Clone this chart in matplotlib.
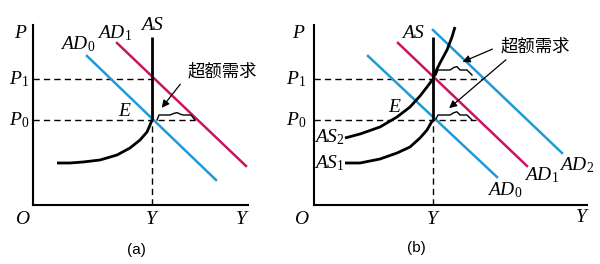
import matplotlib
matplotlib.use("Agg")
import matplotlib.pyplot as plt

plt.rcParams["mathtext.fontset"] = "custom"
plt.rcParams["mathtext.it"] = "Liberation Serif:italic"
plt.rcParams["mathtext.rm"] = "Liberation Serif"
plt.rcParams["mathtext.default"] = "it"

BLUE = "#1f9ad8"
MAGENTA = "#c81462"
CJK = ["Noto Sans CJK SC", "DejaVu Sans"]

# common levels (units: axis origin = 0)
y_full = 5.95
p0, p1 = 4.25, 6.3
as_top = 8.4

# ---- panel (a) ----
a_ad0_x, a_ad0_y = [2.7, 9.15], [7.45, 1.25]
a_ad1_x, a_ad1_y = [4.2, 10.65], [8.1, 1.95]
a_as_x = [1.2, 1.85, 2.5, 3.35, 4.2, 4.85, 5.35, 5.7, 5.85, 5.95]
a_as_y = [2.1, 2.1, 2.15, 2.25, 2.5, 2.85, 3.25, 3.65, 4.0, 4.25]
a_brace_x = [6.2, 6.3, 6.85, 7.05, 7.2, 7.35, 7.5, 7.9, 8.1]
a_brace_y = [4.25, 4.5, 4.5, 4.58, 4.62, 4.55, 4.5, 4.5, 4.25]

# ---- panel (b) ----
b_ad0_x, b_ad0_y = [2.7, 9.15], [7.45, 1.4]
b_ad1_x, b_ad1_y = [4.2, 10.65], [8.1, 1.95]
b_ad2_x, b_ad2_y = [5.95, 12.4], [8.75, 2.6]
b_as1_x = [1.55, 2.3, 3.3, 4.15, 4.8, 5.3, 5.65, 5.85, 5.95]
b_as1_y = [2.1, 2.1, 2.3, 2.6, 2.9, 3.35, 3.75, 4.1, 4.25]
b_as2_x = [1.55, 2.3, 3.3, 4.15, 4.8, 5.3, 5.65, 5.95, 6.1, 6.3, 6.65, 6.9, 7.05]
b_as2_y = [3.35, 3.55, 3.9, 4.4, 4.9, 5.45, 5.9, 6.3, 6.7, 7.1, 7.75, 8.4, 8.9]
b_brace_x = [6.1, 6.2, 6.8, 7.0, 7.15, 7.3, 7.65, 7.9]
b_brace_up = [6.5, 6.75, 6.75, 6.88, 6.92, 6.75, 6.75, 6.5]
b_brace_lo = [4.3, 4.5, 4.5, 4.62, 4.66, 4.5, 4.5, 4.25]

fig = plt.figure(figsize=(6.0, 2.64), dpi=100)
W, H = 600.0, 264.0


def make_axes(x0, x1, y_top, y_bot):
    ax = fig.add_axes([x0 / W, 1 - y_bot / H, (x1 - x0) / W, (y_bot - y_top) / H])
    ax.set_xlim(0, (x1 - x0) / 20)
    ax.set_ylim(0, (y_bot - y_top) / 20)
    for s in ["top", "right"]:
        ax.spines[s].set_visible(False)
    for s in ["left", "bottom"]:
        ax.spines[s].set_linewidth(1.5)
    ax.set_xticks([])
    ax.set_yticks([])
    ax.patch.set_alpha(0)
    return ax


def label(ax, x, y, s, size=14, **kw):
    ax.text(x, y, s, fontsize=size, ha="center", va="center", clip_on=False, **kw)


dash = dict(color="black", lw=1.0, ls=(0, (4.5, 3)))
lab = dict(color="black", lw=2.0, solid_capstyle="butt", solid_joinstyle="round")
arrow = dict(arrowstyle="-|>", color="black", lw=0.9, mutation_scale=11)

# panel (a)
ax = make_axes(33, 248, 25, 205)
ax.plot([0, 8.1], [p0, p0], **dash)
ax.plot([0, y_full], [p1, p1], **dash)
ax.plot([y_full, y_full], [0, p0], **dash)
ax.plot(a_ad0_x, a_ad0_y, color=BLUE, lw=1.8)
ax.plot(a_ad1_x, a_ad1_y, color=MAGENTA, lw=1.8)
ax.plot(a_as_x, a_as_y, **lab)
ax.plot([y_full, y_full], [p0, as_top], **lab)
ax.plot(a_brace_x, a_brace_y, color="black", lw=1.0)
ax.annotate("", xy=(6.35, 4.75), xytext=(7.45, 6.15), arrowprops=arrow)
label(ax, 9.45, 6.65, "超额需求", size=12.5, family=CJK)
label(ax, -0.6, 8.6, "$P$")
label(ax, -0.7, p1, "$P_1$")
label(ax, -0.7, p0, "$P_0$")
label(ax, -0.5, -0.65, "$O$")
label(ax, y_full, -0.65, "$Y$")
label(ax, 10.45, -0.65, "$Y$")
label(ax, 2.25, 8.05, "$AD_0$")
label(ax, 4.1, 8.6, "$AD_1$")
label(ax, y_full, 9.05, "$AS$")
label(ax, 4.6, 4.75, "$E$")
label(ax, 5.15, -2.25, "(a)", size=11, family="Liberation Sans")

# panel (b)
ax = make_axes(314, 587, 25, 205)
ax.plot([0, 8.1], [p0, p0], **dash)
ax.plot([0, 8.45], [p1, p1], **dash)
ax.plot([y_full, y_full], [0, p0], **dash)
ax.plot(b_ad0_x, b_ad0_y, color=BLUE, lw=1.8)
ax.plot(b_ad1_x, b_ad1_y, color=MAGENTA, lw=1.8)
ax.plot(b_ad2_x, b_ad2_y, color=BLUE, lw=1.8)
ax.plot(b_as1_x, b_as1_y, **lab)
ax.plot(b_as2_x, b_as2_y, **lab)
ax.plot([y_full, y_full], [p0, as_top], **lab)
ax.plot(b_brace_x, b_brace_up, color="black", lw=1.0)
ax.plot(b_brace_x, b_brace_lo, color="black", lw=1.0)
ax.annotate("", xy=(7.3, 7.1), xytext=(9.05, 7.85), arrowprops=arrow)
ax.annotate("", xy=(6.65, 4.75), xytext=(9.7, 7.35), arrowprops=arrow)
label(ax, 11.05, 7.9, "超额需求", size=12.5, family=CJK)
label(ax, -0.75, 8.6, "$P$")
label(ax, -0.9, p1, "$P_1$")
label(ax, -0.9, p0, "$P_0$")
label(ax, -0.6, -0.65, "$O$")
label(ax, y_full, -0.65, "$Y$")
label(ax, 13.4, -0.55, "$Y$")
label(ax, 4.95, 8.6, "$AS$")
label(ax, 4.05, 4.9, "$E$")
label(ax, 0.75, 3.4, "$AS_2$")
label(ax, 0.75, 2.1, "$AS_1$")
label(ax, 9.55, 0.75, "$AD_0$")
label(ax, 11.4, 1.5, "$AD_1$")
label(ax, 13.15, 2.0, "$AD_2$")
label(ax, 5.1, -2.15, "(b)", size=11, family="Liberation Sans")

fig.savefig("out.png", dpi=100)
